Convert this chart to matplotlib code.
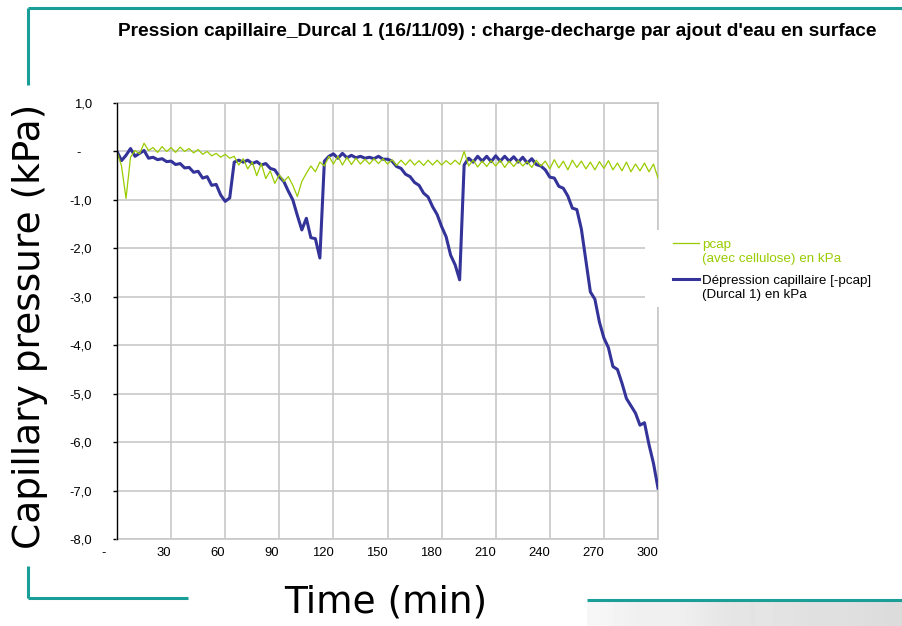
import matplotlib.pyplot as plt
import numpy as np
from matplotlib.lines import Line2D

# one reading every 2.5 minutes over the 300 min test
temps = np.arange(0, 300.1, 2.5)

# pcap of the cellulose reference, kPa
pcap_cellulose = [
    0.00, -0.30, -0.97, -0.12, 0.02, -0.05, 0.17, 0.02, 0.08, -0.02,
    0.10, 0.00, 0.08, -0.02, 0.09, 0.00, 0.06, -0.03, 0.04, -0.06,
    0.00, -0.09, -0.04, -0.12, -0.06, -0.14, -0.10, -0.28, -0.15, -0.36,
    -0.22, -0.50, -0.25, -0.56, -0.40, -0.66, -0.48, -0.62, -0.52, -0.70,
    -0.93, -0.62, -0.45, -0.30, -0.42, -0.22, -0.30, -0.10, -0.26, -0.10,
    -0.28, -0.12, -0.27, -0.14, -0.26, -0.16, -0.26, -0.15, -0.25, -0.15,
    -0.26, -0.17, -0.29, -0.18, -0.28, -0.17, -0.28, -0.19, -0.29, -0.18,
    -0.28, -0.18, -0.28, -0.19, -0.27, -0.18, -0.27, 0.00, -0.30, -0.18,
    -0.32, -0.20, -0.31, -0.19, -0.30, -0.18, -0.33, -0.20, -0.31, -0.19,
    -0.30, -0.21, -0.33, -0.18, -0.30, -0.20, -0.36, -0.17, -0.34, -0.20,
    -0.38, -0.18, -0.33, -0.20, -0.36, -0.22, -0.38, -0.21, -0.35, -0.19,
    -0.38, -0.24, -0.40, -0.22, -0.42, -0.26, -0.40, -0.24, -0.42, -0.26,
    -0.55,
]

# capillary depression of Durcal 1, kPa
depression_durcal = [
    0.00, -0.19, -0.08, 0.06, -0.10, -0.04, 0.02, -0.14, -0.12, -0.17,
    -0.15, -0.21, -0.20, -0.27, -0.25, -0.34, -0.33, -0.43, -0.41, -0.55,
    -0.52, -0.70, -0.68, -0.90, -1.03, -0.96, -0.22, -0.18, -0.22, -0.18,
    -0.25, -0.21, -0.28, -0.25, -0.35, -0.38, -0.52, -0.62, -0.82, -1.00,
    -1.32, -1.62, -1.38, -1.78, -1.80, -2.20, -0.20, -0.10, -0.05, -0.14,
    -0.04, -0.13, -0.08, -0.13, -0.10, -0.14, -0.12, -0.15, -0.10, -0.16,
    -0.16, -0.20, -0.31, -0.35, -0.47, -0.52, -0.64, -0.70, -0.86, -0.94,
    -1.14, -1.30, -1.55, -1.76, -2.14, -2.34, -2.65, -0.28, -0.14, -0.22,
    -0.10, -0.20, -0.10, -0.21, -0.09, -0.20, -0.10, -0.20, -0.11, -0.22,
    -0.12, -0.24, -0.15, -0.27, -0.30, -0.38, -0.53, -0.55, -0.72, -0.76,
    -0.92, -1.17, -1.20, -1.60, -2.25, -2.90, -3.05, -3.52, -3.85, -4.05,
    -4.44, -4.50, -4.78, -5.10, -5.25, -5.40, -5.65, -5.60, -6.05, -6.44,
    -6.95,
]

x_ticks = [0, 30, 60, 90, 120, 150, 180, 210, 240, 270, 300]
x_labels = ['-   ', '30', '60', '90', '120', '150', '180', '210', '240', '270', '300']
y_ticks = [1, 0, -1, -2, -3, -4, -5, -6, -7, -8]
y_labels = ['1,0', '-   ', '-1,0', '-2,0', '-3,0', '-4,0', '-5,0', '-6,0', '-7,0', '-8,0']

legend_labels = ['pcap\n(avec cellulose) en kPa',
                 'Dépression capillaire [-pcap]\n(Durcal 1) en kPa']

titre = "Pression capillaire_Durcal 1 (16/11/09) : charge-decharge par ajout d'eau en surface"

vert = '#99cc00'
bleu = '#333399'
teal = '#1a9e98'
grille = '#c8c8c8'
arial = 'Liberation Sans'

W, H = 902, 626
fig = plt.figure(figsize=(W / 100, H / 100), dpi=100)
fig.patch.set_facecolor('white')

ax = fig.add_axes([117 / W, 1 - 539 / H, 541 / W, 436 / H])
ax.plot(temps, depression_durcal, color=bleu, lw=2.2, zorder=3)
ax.plot(temps, pcap_cellulose, color=vert, lw=0.9, zorder=4)

ax.set_xlim(0, 300)
ax.set_ylim(-8, 1)
ax.set_xticks(x_ticks)
ax.set_xticklabels(x_labels, ha='right', fontfamily=arial, fontsize=9.4)
ax.set_yticks(y_ticks)
ax.set_yticklabels(y_labels, fontfamily=arial, fontsize=9.4)
ax.tick_params(axis='x', length=0, pad=6)
ax.tick_params(axis='y', length=3, width=1, color='black', pad=15)
ax.grid(True, color=grille, lw=1.2)
ax.set_axisbelow(True)
for s in ['top', 'right', 'bottom']:
    ax.spines[s].set_color(grille)
    ax.spines[s].set_linewidth(1.2)
ax.spines['left'].set_color('black')
ax.spines['left'].set_linewidth(1)
ax.spines['left'].set_zorder(5)

# legend block on a white patch that hides the right edge of the grid
fig.patches.append(plt.Rectangle((645 / W, 1 - 307 / H), 240 / W, 77 / H,
                                 transform=fig.transFigure, facecolor='white',
                                 edgecolor='none', zorder=10))
legend_y = [243, 279]
for lab, col, lw, y in zip(legend_labels, [vert, bleu], [0.9, 2.2], legend_y):
    fig.add_artist(Line2D([673 / W, 699 / W], [1 - y / H] * 2, color=col, lw=lw,
                          transform=fig.transFigure, zorder=11))
    txt_col = vert if col == vert else 'black'
    fig.text(702 / W, 1 - (y - 4) / H, lab, color=txt_col, fontfamily=arial,
             fontsize=9.6, va='top', ha='left', linespacing=1.27, zorder=11)

fig.text(497 / W, 1 - 32 / H, titre, fontfamily=arial, fontweight='bold',
         fontsize=13.8, ha='center', va='center')
fig.text(30 / W, 1 - 326 / H, 'Capillary pressure (kPa)', rotation=90,
         fontsize=27, ha='center', va='center')
fig.text(386 / W, 1 - 603 / H, 'Time (min)', fontsize=27, ha='center', va='center')

# teal frame pieces
cadre = [
    ([28, 28], [85, 8]), ([28, 902], [8, 8]),
    ([28, 28], [566, 598]), ([28, 188], [598, 598]),
    ([587, 902], [600, 600]),
]
for xs, ys in cadre:
    fig.add_artist(Line2D([x / W for x in xs], [1 - y / H for y in ys],
                          color=teal, lw=2.2, transform=fig.transFigure,
                          solid_capstyle='butt'))

# light grey band under the bottom right rule
bande = fig.add_axes([587 / W, 0, 315 / W, 24 / H])
bande.imshow([[0.97, 0.93, 0.95, 0.91, 0.89, 0.90, 0.87, 0.88, 0.86]],
             cmap='gray', vmin=0, vmax=1, aspect='auto', interpolation='bicubic')
bande.axis('off')

fig.savefig('out.png', dpi=100)
